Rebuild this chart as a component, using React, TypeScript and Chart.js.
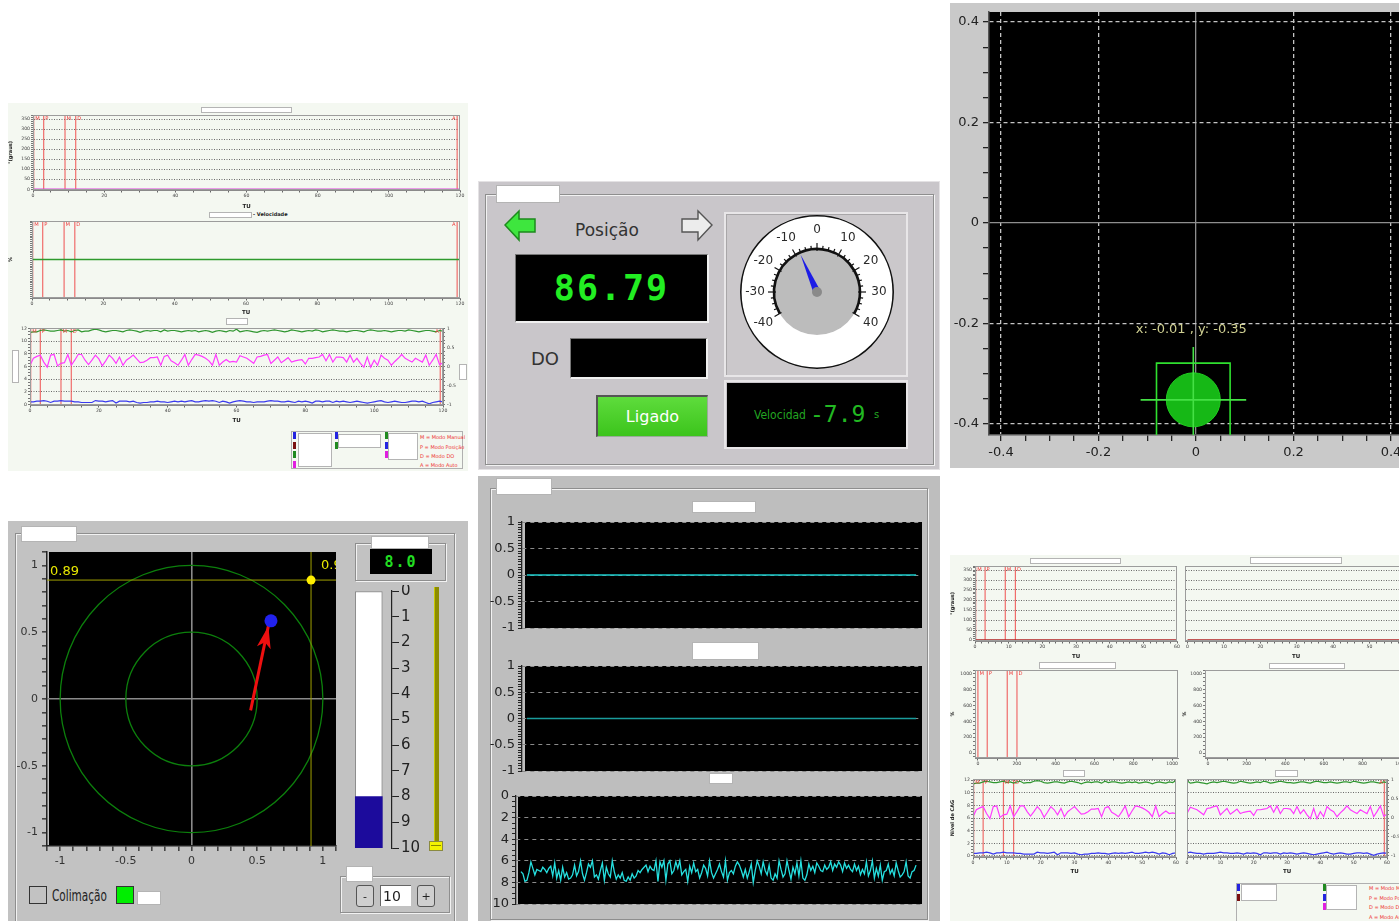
import React, { useEffect, useRef } from 'react';
import { Chart, registerables } from 'chart.js';

Chart.register(...registerables);

const FONT = "'DejaVu Sans', sans-serif";
const MONO = "'DejaVu Sans Mono', monospace";
const NARROW = "'Liberation Sans Narrow', 'DejaVu Sans Condensed', 'DejaVu Sans', sans-serif";
Chart.defaults.font.family = FONT;

// ================= DATA =================
const TU_FULL = [0, 120];
const TU_HALF = [0, 60];
const MODE_TU = [0.2, 3, 9, 12];
const MODE_TXT = ['M', 'P', 'M', 'D'];
const AUTO_TU = 119.2;
const AUTO_TU_HALF = 59.2;
const DO_MODE_X = [0, 48, 151, 201];
const GRAUS = [0, 0];
const VELOC = [0, 0];

const NIVEL_GRN = [
  11.4, 11.5, 11.5, 11.7, 11.8, 11.7, 11.6, 11.6, 11.7, 11.8,
  11.6, 11.7, 11.5, 11.7, 11.8, 11.5, 11.6, 11.6, 11.8, 11.9,
  11.8, 11.6, 11.5, 11.6, 11.7, 11.7, 11.6, 11.5, 11.7, 11.8,
  11.7, 11.6, 11.4, 11.6, 11.7, 11.6, 11.7, 11.7, 11.5, 11.8,
  11.6, 11.7, 11.7, 11.6, 11.5, 11.6, 11.7, 11.6, 11.7, 11.5,
  11.6, 11.7, 11.6, 11.4, 11.6, 11.7, 11.6, 11.5, 11.7, 11.6,
  11.9,
  11.5, 11.6, 11.7, 11.6, 11.5, 11.4, 11.6, 11.7, 11.6, 11.7,
  11.8, 11.7, 11.6, 11.5, 11.6, 11.8, 11.7, 11.6, 11.5, 11.6,
  11.7, 11.6, 11.8, 11.7, 11.5, 11.6, 11.7, 11.8, 11.7, 11.6,
  11.6, 11.5, 11.6, 11.7, 11.7, 11.6, 11.5, 11.7, 11.8, 11.7,
  11.6, 11.6, 11.7, 11.6, 11.5, 11.6, 11.7, 11.7, 11.6, 11.8,
  11.7, 11.6, 11.5, 11.6, 11.7, 11.7, 11.6, 11.5, 11.7, 11.6,
];
const NIVEL_MAG = [
  6.2, 7.3, 7.6, 7.8, 6.7, 5.9, 7.8, 7.9, 6.1, 6.5,
  6.6, 7.9, 6.2, 7.0, 7.9, 7.9, 7.0, 6.3, 7.0, 7.8,
  7.2, 6.1, 6.9, 7.8, 7.3, 6.5, 7.5, 6.2, 7.0, 7.4,
  7.8, 7.2, 6.6, 6.7, 7.0, 7.4, 7.4, 7.5, 6.2, 7.6,
  7.8, 6.9, 6.6, 6.2, 7.0, 7.9, 6.2, 7.1, 7.9, 7.8,
  7.6, 7.3, 6.9, 6.2, 7.9, 6.2, 6.7, 7.1, 6.7, 6.8,
  6.7,
  7.7, 7.5, 7.3, 6.9, 6.5, 7.5, 7.6, 7.8, 7.9, 6.5,
  7.0, 7.5, 6.6, 7.0, 7.4, 6.7, 6.9, 7.0, 7.1, 6.4,
  7.3, 7.3, 7.4, 7.5, 7.9, 6.9, 7.9, 6.7, 7.5, 7.5,
  7.4, 6.7, 7.8, 6.7, 7.3, 6.5, 5.9, 7.5, 5.9, 7.0,
  6.2, 7.8, 7.3, 7.0, 6.2, 6.8, 7.3, 7.9, 7.3, 7.0,
  6.7, 7.3, 7.0, 6.7, 7.8, 6.2, 7.0, 7.9, 6.3, 6.6,
];
const NIVEL_BLU = [
  0.4, 0.4, 0.5, 0.5, 0.6, 0.5, 0.3, 0.5, 0.5, 0.6,
  0.5, 0.5, 0.5, 0.4, 0.4, 0.3, 0.3, 0.3, 0.3, 0.6,
  0.5, 0.5, 0.4, 0.5, 0.6, 0.2, 0.5, 0.5, 0.5, 0.4,
  0.5, 0.3, 0.2, 0.3, 0.3, 0.4, 0.4, 0.5, 0.4, 0.4,
  0.3, 0.4, 0.5, 0.4, 0.5, 0.4, 0.5, 0.6, 0.4, 0.4,
  0.5, 0.6, 0.5, 0.6, 0.5, 0.3, 0.5, 0.4, 0.2, 0.4,
  0.5,
  0.6, 0.5, 0.4, 0.4, 0.3, 0.4, 0.4, 0.4, 0.5, 0.6,
  0.5, 0.5, 0.4, 0.4, 0.5, 0.4, 0.3, 0.5, 0.4, 0.5,
  0.4, 0.2, 0.5, 0.5, 0.4, 0.5, 0.5, 0.3, 0.5, 0.4,
  0.5, 0.4, 0.3, 0.4, 0.5, 0.4, 0.3, 0.2, 0.3, 0.4,
  0.5, 0.6, 0.4, 0.3, 0.4, 0.5, 0.4, 0.3, 0.3, 0.4,
  0.5, 0.5, 0.4, 0.5, 0.3, 0.1, 0.3, 0.4, 0.5, 0.4,
];

const POSICAO = 86.79;
const VELOCIDAD = -7.9;
const GAUGE_TICKS = [-40, -30, -20, -10, 0, 10, 20, 30, 40];

const CURSOR_XY = [-0.0055, -0.352];
const CROSS_H_X = [-0.1136, 0.103];
const CROSS_V_Y = [-0.247, -0.45];
const BOX_X = [-0.081, 0.07];
const BOX_Y = [-0.45, -0.279];

const RINGS = [0.5, 1];
const POLAR_LIM = [-1.1, 1.1];
const TARGET_XY = [0.91, 0.89];
const PROBE_XY = [0.605, 0.585];
const ARROW_FROM = [0.45, -0.085];
const ARROW_TO = [0.585, 0.545];
const TANK_VALUE = 8.0;
const TANK_FILL = [8, 10];
const TANK_RANGE = [0, 10];
const SPIN_VALUE = 10;

const SCOPE_SPAN = [0, 199];
const SCOPE_A = [0, 0];
const SCOPE_B = [0, 0];
const SCOPE_C = [
  7.0, 7.2, 7.9, 7.8, 7.1, 6.1, 6.7, 7.3, 6.8, 6.9, 7.0, 6.6, 6.8, 7.1, 6.7, 6.5, 7.4, 6.2, 7.6, 6.9,
  7.8, 6.6, 7.5, 7.1, 7.7, 7.6, 7.3, 6.4, 7.4, 7.0, 6.0, 7.2, 7.8, 7.1, 6.3, 6.6, 6.0, 7.5, 7.3, 7.7,
  6.9, 6.2, 7.8, 6.6, 7.2, 7.5, 6.0, 7.0, 7.7, 7.3, 7.6, 7.1, 7.8, 7.9, 7.5, 7.8, 7.2, 7.6, 7.4, 6.9,
  7.1, 6.8, 6.6, 6.4, 7.0, 6.5, 6.8, 6.9, 6.0, 7.9, 6.1, 6.6, 6.0, 7.8, 6.3, 6.0, 7.2, 6.9, 6.1, 6.7,
  6.0, 7.3, 7.0, 6.8, 7.9, 6.5, 7.1, 6.2, 7.0, 6.8, 7.6, 7.1, 6.4, 6.7, 7.4, 6.0, 7.1, 7.6, 7.2, 6.8,
  6.3, 7.0, 7.5, 6.0, 7.8, 7.1, 6.9, 7.2, 6.5, 6.1, 6.4, 6.9, 7.5, 6.8, 7.6, 7.0, 6.3, 8.0, 6.9, 6.0,
  6.5, 7.2, 6.1, 6.9, 7.3, 6.4, 7.6, 7.8, 7.2, 7.6, 6.0, 6.8, 7.5, 7.2, 6.0, 6.9, 7.7, 6.6, 7.2, 6.2,
  7.4, 6.0, 7.6, 7.8, 7.3, 6.3, 6.9, 6.5, 7.1, 6.2, 6.5, 6.9, 7.0, 6.4, 6.8, 6.6, 6.1, 6.9, 6.3, 6.6,
  6.1, 6.4, 7.0, 6.2, 6.7, 6.4, 6.8, 7.0, 6.3, 6.9, 6.5, 7.3, 6.8, 7.2, 6.1, 7.4, 6.9, 6.0, 7.6, 6.7,
  7.4, 6.4, 7.8, 7.0, 6.9, 6.3, 7.2, 6.8, 7.4, 6.2, 6.9, 7.5, 7.3, 7.0, 6.1, 7.4, 7.6, 7.0, 6.9, 6.4,
];

const LEGEND_TXT = ['M = Modo Manual', 'P = Modo Posição', 'D = Modo DO', 'A = Modo Auto'];

// ================= helpers =================
const isMult = (v: number, m: number) => Math.abs(v / m - Math.round(v / m)) < 1e-6;
const fmt = (v: number) => String(Math.round(v * 1000) / 1000);
const NOCOL = 'rgba(0,0,0,0)';
const basePlugins = { legend: { display: false }, tooltip: { enabled: false } };
const zeroPad = (s: any) => { s.paddingTop = 0; s.paddingBottom = 0; s.paddingLeft = 0; s.paddingRight = 0; };
const fitW = (w: number) => (s: any) => { s.width = w; zeroPad(s); };
const fitH = (h: number) => (s: any) => { s.height = h; zeroPad(s); };

const bgPlugin = (color: string, inset = 0) => ({
  id: 'plotBg',
  beforeDraw(chart: any) {
    const { ctx, chartArea: a } = chart;
    ctx.save();
    ctx.fillStyle = color;
    ctx.fillRect(a.left + inset, a.top, a.right - a.left - inset, a.bottom - a.top);
    ctx.restore();
  },
});

const framePlugin = (color: string) => ({
  id: 'plotFrame',
  afterDraw(chart: any) {
    const { ctx, chartArea: a } = chart;
    ctx.save();
    ctx.strokeStyle = color;
    ctx.lineWidth = 1;
    ctx.strokeRect(a.left + 0.5, a.top + 0.5, a.right - a.left - 1, a.bottom - a.top - 1);
    ctx.restore();
  },
});

type ModeItem = { x: number; t: string; left?: boolean };
const modeLabelPlugin = (items: ModeItem[], fs: number) => ({
  id: 'modeLabels',
  afterDatasetsDraw(chart: any) {
    const { ctx, chartArea: a, scales } = chart;
    ctx.save();
    ctx.fillStyle = '#ee3a3a';
    ctx.font = `${fs}px ${FONT}`;
    ctx.textBaseline = 'top';
    items.forEach((it) => {
      const px = scales.x.getPixelForValue(it.x);
      ctx.textAlign = it.left ? 'right' : 'left';
      ctx.fillText(it.t, px + (it.left ? -1.5 : 1.5), a.top + 1.5);
    });
    ctx.restore();
  },
});

type Series = { data: number[]; xs?: number[]; color: string; w?: number };
type StripOpts = {
  x: number[];
  y: number[];
  series: Series[];
  modes: ModeItem[];
  yTitle?: string;
  xTitle?: string;
  pad: { left: number; bottom: number; top: number; right: number };
  showY?: boolean;
  hGrid?: boolean;
  right?: { min: number; max: number; step: number; every: number; width: number };
  fs?: number;
};

function stripCfg(o: StripOpts) {
  const fs = o.fs ?? 4.6;
  const [xmin, xmax, xstep, xev] = o.x;
  const [ymin, ymax, ystep, yev] = o.y;
  const showY = o.showY !== false;
  const hGrid = o.hGrid !== false;
  const datasets: any[] = [];
  o.series.forEach((s) =>
    datasets.push({
      type: 'line',
      data: s.data.map((v, i) => ({ x: s.xs ? s.xs[i] : i, y: v })),
      borderColor: s.color,
      borderWidth: s.w ?? 1.2,
      pointRadius: 0,
      yAxisID: 'y',
    })
  );
  o.modes.forEach((m) =>
    datasets.push({
      type: 'line',
      data: [{ x: m.x, y: ymin }, { x: m.x, y: ymax }],
      borderColor: 'rgba(238,84,84,0.85)',
      borderWidth: 1.2,
      pointRadius: 0,
      yAxisID: 'y',
    })
  );
  const tickFont = { family: FONT, size: fs };
  const scales: any = {
    x: {
      type: 'linear',
      min: xmin,
      max: xmax,
      afterFit: fitH(o.pad.bottom),
      ticks: { stepSize: xstep, autoSkip: false, includeBounds: false, maxRotation: 0, font: tickFont, color: '#444', padding: 1,
        callback: (v: any) => (isMult(v, xev) ? fmt(v) : '') },
      grid: { drawOnChartArea: false, tickLength: 2.5, tickColor: '#666' },
      border: { color: '#8a8a8a' },
      title: { display: !!o.xTitle, text: o.xTitle, color: '#222', font: { family: FONT, size: fs + 0.9, weight: 'bold' }, padding: { top: 1, bottom: 0 } },
    },
    y: {
      type: 'linear',
      min: ymin,
      max: ymax,
      afterFit: fitW(o.pad.left),
      ticks: { display: showY, stepSize: ystep, autoSkip: false, includeBounds: false, font: tickFont, color: '#444', padding: 1,
        callback: (v: any) => (isMult(v, yev) ? fmt(v) : '') },
      grid: {
        color: (c: any) => (hGrid && c.tick && isMult(c.tick.value, yev) ? '#6a6a6a' : NOCOL),
        tickColor: '#777', tickLength: 2, drawTicks: showY,
      },
      border: { color: '#8a8a8a', dash: [1, 1.5] },
      title: { display: !!o.yTitle, text: o.yTitle, color: '#222', font: { family: FONT, size: fs + 0.4, weight: 'bold' }, padding: 0 },
    },
  };
  if (o.right) {
    const r = o.right;
    scales.y2 = {
      type: 'linear',
      position: 'right',
      min: r.min,
      max: r.max,
      afterFit: fitW(r.width),
      ticks: { stepSize: r.step, autoSkip: false, includeBounds: false, font: tickFont, color: '#444', padding: 2,
        callback: (v: any) => (isMult(v, r.every) ? fmt(v) : '') },
      grid: { drawOnChartArea: false, tickColor: '#777', tickLength: 2 },
      border: { color: '#8a8a8a' },
    };
  }
  return {
    type: 'line',
    data: { datasets },
    options: {
      responsive: false, animation: false, events: [],
      layout: { autoPadding: false, padding: { top: o.pad.top, right: o.pad.right, left: 0, bottom: 0 } },
      plugins: basePlugins,
      scales,
    },
    plugins: [framePlugin('#9c9c9c'), modeLabelPlugin(o.modes, fs + 0.6)],
  };
}

const modesFull: ModeItem[] = [...MODE_TU.map((x, i) => ({ x, t: MODE_TXT[i] })), { x: AUTO_TU, t: 'A', left: true }];
const modesHalf: ModeItem[] = MODE_TU.map((x, i) => ({ x, t: MODE_TXT[i] }));
const modesDO: ModeItem[] = DO_MODE_X.map((x, i) => ({ x, t: MODE_TXT[i] }));

// ---------- gauge ----------
const gaugePlugin = {
  id: 'gaugeFace',
  afterDatasetsDraw(chart: any) {
    const ctx = chart.ctx;
    const a0 = chart.getDatasetMeta(0).data[0];
    const a1 = chart.getDatasetMeta(1).data[0];
    const cx = a0.x, cy = a0.y, R = a0.outerRadius, r = a1.outerRadius;
    const ang = (v: number) => -Math.PI / 2 + (v * 3 * Math.PI) / 180;
    const lo = GAUGE_TICKS[0];
    const hi = GAUGE_TICKS[GAUGE_TICKS.length - 1];
    ctx.save();
    ctx.strokeStyle = '#111';
    ctx.lineWidth = 1.6;
    ctx.beginPath();
    ctx.arc(cx, cy, R - 0.8, 0, Math.PI * 2);
    ctx.stroke();
    ctx.lineWidth = 2.6;
    ctx.beginPath();
    ctx.arc(cx, cy, r, ang(lo), ang(hi));
    ctx.stroke();
    ctx.lineWidth = 1.2;
    for (let v = lo; v <= hi; v += 2.5) {
      const major = isMult(v, 10);
      const t = ang(v);
      const r1 = r - (major ? 2 : 0);
      const r2 = r + (major ? 6 : 3.5);
      ctx.beginPath();
      ctx.moveTo(cx + Math.cos(t) * r1, cy + Math.sin(t) * r1);
      ctx.lineTo(cx + Math.cos(t) * r2, cy + Math.sin(t) * r2);
      ctx.stroke();
    }
    ctx.fillStyle = '#2a2a2a';
    ctx.font = `12px ${FONT}`;
    ctx.textAlign = 'center';
    ctx.textBaseline = 'middle';
    GAUGE_TICKS.forEach((v) => {
      const t = ang(v);
      const rl = r + 19;
      ctx.fillText(v < 0 ? '-' + Math.abs(v) : String(v), cx + Math.cos(t) * rl, cy + Math.sin(t) * rl);
    });
    const tn = ang(VELOCIDAD);
    const L = r - 2;
    const bw = 3.6;
    ctx.fillStyle = '#1d1de6';
    ctx.beginPath();
    ctx.moveTo(cx + Math.cos(tn) * L, cy + Math.sin(tn) * L);
    ctx.lineTo(cx + Math.cos(tn + Math.PI / 2) * bw, cy + Math.sin(tn + Math.PI / 2) * bw);
    ctx.lineTo(cx + Math.cos(tn - Math.PI / 2) * bw, cy + Math.sin(tn - Math.PI / 2) * bw);
    ctx.closePath();
    ctx.fill();
    ctx.fillStyle = '#8a8a8a';
    ctx.beginPath();
    ctx.arc(cx, cy, 5, 0, Math.PI * 2);
    ctx.fill();
    ctx.restore();
  },
};

function gaugeCfg() {
  return {
    type: 'doughnut',
    data: {
      datasets: [
        { data: [1], backgroundColor: ['#ffffff'], borderWidth: 0, weight: 34 },
        { data: [1], backgroundColor: ['#bcbcbc'], borderWidth: 0, weight: 43 },
      ],
    },
    options: {
      responsive: false, animation: false, events: [],
      radius: 77, cutout: 0,
      layout: { autoPadding: false, padding: { bottom: 5 } },
      plugins: basePlugins,
    },
    plugins: [gaugePlugin],
  };
}

// ---------- XY cursor (top right) ----------
function cursorCfg() {
  const gridColor = (c: any) => {
    if (!c.tick) return NOCOL;
    const v = c.tick.value;
    if (Math.abs(v) < 1e-9) return '#8e8e8e';
    return isMult(v, 0.2) ? '#c4c4c4' : NOCOL;
  };
  const dash = (c: any) => (c.tick && Math.abs(c.tick.value) > 1e-9 ? [4, 3] : []);
  const axis = (min: number, max: number, fit: (s: any) => void) => ({
    type: 'linear', min, max, afterFit: fit,
    ticks: { stepSize: 0.05, autoSkip: false, includeBounds: false, maxRotation: 0, font: { size: 13 }, color: '#222', padding: 4,
      callback: (v: any) => (isMult(v, 0.2) ? fmt(v) : '') },
    grid: { color: gridColor, lineWidth: 1.3, tickColor: '#222', tickLength: 6 },
    border: { color: '#555', width: 1.5, dash },
  });
  const labelPlugin = {
    id: 'cursorLabel',
    afterDatasetsDraw(chart: any) {
      const { ctx, scales } = chart;
      const px = scales.x.getPixelForValue(CURSOR_XY[0]);
      const py = scales.y.getPixelForValue(CURSOR_XY[1]);
      ctx.save();
      ctx.fillStyle = '#cfcf92';
      ctx.font = `13px ${FONT}`;
      ctx.textAlign = 'center';
      ctx.textBaseline = 'middle';
      ctx.fillText(`x: ${CURSOR_XY[0].toFixed(2)} , y: ${CURSOR_XY[1].toFixed(2)}`, px - 2, py - 70);
      ctx.restore();
    },
  };
  return {
    type: 'scatter',
    data: {
      datasets: [
        { type: 'line', data: CROSS_H_X.map((x) => ({ x, y: CURSOR_XY[1] })), borderColor: '#45e045', borderWidth: 1.6, pointRadius: 0 },
        { type: 'line', data: CROSS_V_Y.map((y) => ({ x: CURSOR_XY[0], y })), borderColor: '#45e045', borderWidth: 1.6, pointRadius: 0 },
        {
          type: 'line',
          data: [
            { x: BOX_X[0], y: BOX_Y[0] }, { x: BOX_X[0], y: BOX_Y[1] },
            { x: BOX_X[1], y: BOX_Y[1] }, { x: BOX_X[1], y: BOX_Y[0] },
          ],
          borderColor: '#2fe02f', borderWidth: 1.6, pointRadius: 0,
        },
        { type: 'scatter', data: [{ x: CURSOR_XY[0], y: CURSOR_XY[1] }], pointRadius: 27, backgroundColor: '#16b816', borderColor: '#20cc20', borderWidth: 1 },
      ],
    },
    options: {
      responsive: false, animation: false, events: [],
      layout: { autoPadding: false, padding: { top: 9, right: 10, left: 0, bottom: 0 } },
      plugins: basePlugins,
      scales: {
        x: axis(-0.4246, 0.439, fitH(33)),
        y: axis(-0.422, 0.42, fitW(39)),
      },
    },
    plugins: [bgPlugin('#000'), labelPlugin],
  };
}

// ---------- polar target (bottom left) ----------
function polarCfg() {
  const gridColor = (c: any) => (c.tick && Math.abs(c.tick.value) < 1e-9 ? '#8a8a8a' : NOCOL);
  const axis = (fit: (s: any) => void) => ({
    type: 'linear', min: POLAR_LIM[0], max: POLAR_LIM[1], afterFit: fit,
    ticks: { stepSize: 0.1, autoSkip: false, includeBounds: false, maxRotation: 0, font: { size: 11 }, color: '#333', padding: 4,
      callback: (v: any) => (isMult(v, 0.5) ? fmt(v) : '') },
    grid: { color: gridColor, lineWidth: 1.6, tickColor: '#444', tickLength: 5 },
    border: { color: '#222', width: 1.5 },
  });
  const deco = {
    id: 'polarDeco',
    beforeDatasetsDraw(chart: any) {
      const { ctx, chartArea: a, scales: { x, y } } = chart;
      const cx = x.getPixelForValue(0), cy = y.getPixelForValue(0);
      ctx.save();
      ctx.beginPath();
      ctx.rect(a.left, a.top, a.right - a.left, a.bottom - a.top);
      ctx.clip();
      ctx.strokeStyle = '#0c800c';
      ctx.lineWidth = 1.3;
      RINGS.forEach((r) => {
        const rx = Math.abs(x.getPixelForValue(r) - cx);
        const ry = Math.abs(y.getPixelForValue(r) - cy);
        ctx.beginPath();
        ctx.ellipse(cx, cy, rx, ry, 0, 0, Math.PI * 2);
        ctx.stroke();
      });
      ctx.restore();
    },
    afterDatasetsDraw(chart: any) {
      const { ctx, chartArea: a, scales: { x, y } } = chart;
      ctx.save();
      ctx.beginPath();
      ctx.rect(a.left, a.top, a.right - a.left, a.bottom - a.top);
      ctx.clip();
      ctx.fillStyle = '#e8e800';
      ctx.font = `13px ${FONT}`;
      ctx.textBaseline = 'bottom';
      ctx.textAlign = 'left';
      ctx.fillText(TARGET_XY[1].toFixed(2), a.left + 3, y.getPixelForValue(TARGET_XY[1]) - 2);
      ctx.textBaseline = 'top';
      ctx.fillText(TARGET_XY[0].toFixed(2), x.getPixelForValue(TARGET_XY[0]) + 10, a.top + 7);
      const x1 = x.getPixelForValue(ARROW_FROM[0]), y1 = y.getPixelForValue(ARROW_FROM[1]);
      const x2 = x.getPixelForValue(ARROW_TO[0]), y2 = y.getPixelForValue(ARROW_TO[1]);
      const t = Math.atan2(y2 - y1, x2 - x1);
      const L = 22, W = 7;
      ctx.fillStyle = '#ee1010';
      ctx.beginPath();
      ctx.moveTo(x2, y2);
      ctx.lineTo(x2 - Math.cos(t) * L + Math.cos(t + Math.PI / 2) * W, y2 - Math.sin(t) * L + Math.sin(t + Math.PI / 2) * W);
      ctx.lineTo(x2 - Math.cos(t) * L * 0.75, y2 - Math.sin(t) * L * 0.75);
      ctx.lineTo(x2 - Math.cos(t) * L - Math.cos(t + Math.PI / 2) * W, y2 - Math.sin(t) * L - Math.sin(t + Math.PI / 2) * W);
      ctx.closePath();
      ctx.fill();
      ctx.restore();
    },
  };
  return {
    type: 'scatter',
    data: {
      datasets: [
        { type: 'scatter', data: [{ x: PROBE_XY[0], y: PROBE_XY[1] }], pointRadius: 6.5, backgroundColor: '#2222ee', borderWidth: 0 },
        { type: 'scatter', data: [{ x: TARGET_XY[0], y: TARGET_XY[1] }], pointRadius: 4.5, backgroundColor: '#ffee00', borderWidth: 0 },
        { type: 'line', data: [{ x: ARROW_FROM[0], y: ARROW_FROM[1] }, { x: ARROW_TO[0], y: ARROW_TO[1] }], borderColor: '#ee1010', borderWidth: 3, pointRadius: 0 },
        { type: 'line', data: POLAR_LIM.map((x) => ({ x, y: TARGET_XY[1] })), borderColor: '#a0a000', borderWidth: 1, pointRadius: 0 },
        { type: 'line', data: POLAR_LIM.map((y) => ({ x: TARGET_XY[0], y })), borderColor: '#a0a000', borderWidth: 1, pointRadius: 0 },
      ],
    },
    options: {
      responsive: false, animation: false, events: [],
      layout: { autoPadding: false, padding: { top: 6, right: 9, left: 0, bottom: 0 } },
      plugins: basePlugins,
      scales: {
        x: axis(fitH(30)),
        y: axis(fitW(32)),
      },
    },
    plugins: [bgPlugin('#000', 2), deco],
  };
}

// ---------- tank ----------
function tankCfg() {
  return {
    type: 'bar',
    data: {
      datasets: [
        { data: [{ x: 0.34, y: TANK_FILL }], backgroundColor: '#1c0b9c', borderWidth: 0, barThickness: 27, grouped: false },
        { data: [{ x: 0.34, y: TANK_RANGE }], backgroundColor: '#ffffff', borderColor: '#8a8a8a', borderWidth: 1, borderSkipped: false, barThickness: 27, grouped: false },
      ],
    },
    options: {
      responsive: false, animation: false, events: [],
      layout: { autoPadding: false, padding: { left: 4, top: 6, bottom: 7, right: 0 } },
      plugins: basePlugins,
      scales: {
        x: { type: 'linear', min: 0, max: 1, display: false },
        y: {
          position: 'right', reverse: true, min: 0, max: 10,
          afterFit: fitW(32),
          ticks: { stepSize: 1, font: { size: 15 }, color: '#222', padding: 2 },
          grid: { drawOnChartArea: false, tickLength: 7, tickColor: '#222' },
          border: { color: '#222', width: 1.2 },
        },
      },
    },
  };
}

// ---------- scope strips (bottom middle) ----------
function scopeCfg(series: number[], xs: number[] | null, color: string, y: number[], reverse: boolean, leftW: number, inset: number, padTop: number, padBottom: number) {
  const [min, max, step, every] = y;
  return {
    type: 'line',
    data: { datasets: [{ data: series.map((v, i) => ({ x: xs ? xs[i] : i, y: v })), borderColor: color, borderWidth: 1.3, pointRadius: 0 }] },
    options: {
      responsive: false, animation: false, events: [],
      layout: { autoPadding: false, padding: { top: padTop, bottom: padBottom, right: 6, left: 0 } },
      plugins: basePlugins,
      scales: {
        x: { type: 'linear', min: -2.5, max: 202, display: false },
        y: {
          type: 'linear', min, max, reverse,
          afterFit: fitW(leftW),
          ticks: { stepSize: step, autoSkip: false, includeBounds: false, font: { size: 13 }, color: '#222', padding: 3,
            callback: (v: any) => (isMult(v, every) ? fmt(v) : '') },
          grid: { color: (c: any) => (c.tick && isMult(c.tick.value, every) ? '#8a8a8a' : NOCOL), tickColor: '#222', tickLength: 4 },
          border: { color: '#222', width: 1.3, dash: [4, 4] },
        },
      },
    },
    plugins: [bgPlugin('#000', inset)],
  };
}

// ================= components =================
function ChartBox({ x, y, w, h, cfg }: { x: number; y: number; w: number; h: number; cfg: () => any }) {
  const ref = useRef<HTMLCanvasElement | null>(null);
  useEffect(() => {
    const chart = new Chart(ref.current as HTMLCanvasElement, cfg());
    return () => chart.destroy();
  }, []);
  return (
    <canvas
      ref={ref}
      width={w}
      height={h}
      style={{ position: 'absolute', left: x, top: y, width: w, height: h, display: 'block' }}
    />
  );
}

const S = (l: number, t: number, w: number, h: number, extra: React.CSSProperties = {}): React.CSSProperties => ({
  position: 'absolute', left: l, top: t, width: w, height: h, boxSizing: 'border-box', ...extra,
});
const WB = ({ l, t, w, h }: { l: number; t: number; w: number; h: number }) => (
  <div style={S(l, t, w, h, { background: '#fff', border: '1px solid #b4b4b4' })} />
);
const Groove = ({ l, t, w, h }: { l: number; t: number; w: number; h: number }) => (
  <div style={S(l, t, w, h, { border: '1px solid #8e8e8e', boxShadow: 'inset 1px 1px 0 #f2f2f2, 1px 1px 0 #f2f2f2' })} />
);
const T = ({ l, t, s, children }: { l: number; t: number; s?: React.CSSProperties; children: any }) => (
  <div style={{ position: 'absolute', left: l, top: t, whiteSpace: 'nowrap', lineHeight: 1, ...s }}>{children}</div>
);
const Sw = ({ l, t, c }: { l: number; t: number; c: string }) => <div style={S(l, t, 3, 7, { background: c })} />;

function Legend({ l, t, w, h, cols, textX, textY, boxes }: any) {
  return (
    <>
      <div style={S(l, t, w, h, { border: '1px solid #b0b0b0' })} />
      {cols.map((c: any, i: number) => c.colors.map((col: string, j: number) => <Sw key={i + '-' + j} l={c.x} t={c.y + j * c.dy} c={col} />))}
      {boxes.map((b: number[], i: number) => <WB key={'b' + i} l={b[0]} t={b[1]} w={b[2]} h={b[3]} />)}
      {LEGEND_TXT.map((s, i) => (
        <T key={'t' + i} l={textX} t={textY[i] - 2.5} s={{ fontSize: 5, color: '#ee3030' }}>{s}</T>
      ))}
    </>
  );
}

export default function App() {
  const panelLight = '#f4f8f1';
  return (
    <div style={{ position: 'absolute', left: 0, top: 0, width: 1399, height: 921, overflow: 'hidden', background: '#fff', fontFamily: FONT }}>
      {/* ===== Panel 1: top-left strip charts ===== */}
      <div style={S(8, 103, 460, 368, { background: panelLight })} />
      <WB l={201} t={107} w={91} h={6} />
      <ChartBox x={8} y={112} w={460} h={98} cfg={() => stripCfg({
        x: [0, 120, 5, 20], y: [-3.5, 371, 10, 50],
        series: [{ data: GRAUS, xs: TU_FULL, color: '#e040e0', w: 1.4 }],
        modes: modesFull, yTitle: '°(graus)', xTitle: 'TU',
        pad: { left: 25, bottom: 20, top: 3, right: 8 },
      })} />
      <WB l={209} t={212} w={43} h={6} />
      <T l={253} t={212} s={{ fontSize: 5, fontWeight: 'bold', color: '#222' }}>- Velocidade</T>
      <ChartBox x={8} y={218} w={460} h={98} cfg={() => stripCfg({
        x: [0, 120, 5, 20], y: [-41, 41, 2, 10],
        series: [{ data: VELOC, xs: TU_FULL, color: '#2e9a2e', w: 1.4 }],
        modes: modesFull, yTitle: '%', xTitle: 'TU',
        pad: { left: 24, bottom: 18, top: 3, right: 8 },
      })} />
      <WB l={226} t={318} w={22} h={7} />
      <ChartBox x={8} y={326} w={460} h={98} cfg={() => stripCfg({
        x: [0, 120, 5, 20], y: [-0.1, 12.1, 0.5, 2],
        series: [
          { data: NIVEL_GRN, color: '#2f962f' },
          { data: NIVEL_MAG, color: '#ff3cff' },
          { data: NIVEL_BLU, color: '#3a3aee' },
        ],
        modes: modesFull, xTitle: 'TU',
        pad: { left: 22, bottom: 19, top: 2, right: 0 },
        right: { min: -1.017, max: 1.017, step: 0.1, every: 0.5, width: 25 },
      })} />
      <WB l={12} t={350} w={7} h={33} />
      <WB l={459} t={364} w={8} h={16} />
      <Legend l={291} t={431} w={172} h={38}
        cols={[
          { x: 293, y: 432, dy: 9.5, colors: ['#2424e0', '#7a1010', '#208a20', '#e020e0'] },
          { x: 335, y: 432, dy: 9.5, colors: ['#2424e0', '#208a20'] },
          { x: 385, y: 432, dy: 9.5, colors: ['#208a20', '#2424e0', '#e020e0'] },
        ]}
        boxes={[[298, 433, 34, 34], [338, 434, 43, 14], [388, 433, 30, 27]]}
        textX={420} textY={[437, 447, 456, 465]} />

      {/* ===== Panel 2: widget ===== */}
      <div style={S(478, 181, 462, 289, { background: '#c9c6ca', border: '1px solid #e4e2e4' })} />
      <Groove l={485} t={194} w={449} h={271} />
      <WB l={496} t={185} w={64} h={18} />
      <svg style={{ position: 'absolute', left: 504, top: 209 }} width={33} height={33}>
        <polygon points="1,16 15,2 15,10 31,10 31,23 15,23 15,31" fill="#3ee63e" stroke="#1d8a1d" strokeWidth={1.5} />
      </svg>
      <T l={575} t={222} s={{ fontSize: 17, color: '#333' }}>Posição</T>
      <svg style={{ position: 'absolute', left: 680, top: 209 }} width={33} height={33}>
        <polygon points="32,16 18,2 18,10 2,10 2,23 18,23 18,31" fill="#ececec" stroke="#555" strokeWidth={1.4} />
      </svg>
      <div style={S(515, 254, 194, 69, { background: '#000', borderTop: '1px solid #777', borderLeft: '1px solid #777', borderRight: '2px solid #f0f0f0', borderBottom: '2px solid #f0f0f0', display: 'flex', alignItems: 'center', justifyContent: 'center' })}>
        <span style={{ fontFamily: MONO, fontWeight: 'bold', fontSize: 35, color: '#22ee22', letterSpacing: 2 }}>{POSICAO.toFixed(2)}</span>
      </div>
      <T l={531} t={350} s={{ fontSize: 18, color: '#333' }}>DO</T>
      <div style={S(570, 338, 138, 41, { background: '#000', borderTop: '1px solid #777', borderLeft: '1px solid #777', borderRight: '2px solid #f0f0f0', borderBottom: '2px solid #f0f0f0' })} />
      <div style={S(596, 395, 112, 42, { background: 'linear-gradient(#5edc3c, #3cc41c)', borderTop: '2px solid #555', borderLeft: '2px solid #555', borderRight: '1px solid #9a9', borderBottom: '1px solid #9a9', display: 'flex', alignItems: 'center', justifyContent: 'center', color: '#fff', fontSize: 16 })}>Ligado</div>
      <div style={S(724, 212, 184, 165, { background: '#cbc8cb', border: '2px solid #e8e6e8', boxShadow: 'inset 1px 1px 0 #a8a6a8' })} />
      <ChartBox x={726} y={214} w={182} h={161} cfg={gaugeCfg} />
      <div style={S(724, 380, 184, 69, { border: '2px solid #e8e6e8' })} />
      <div style={S(727, 383, 179, 64, { background: '#000' })} />
      <T l={754} t={409} s={{ fontFamily: NARROW, fontSize: 12, color: '#22a622' }}>Velocidad</T>
      <T l={810} t={403} s={{ fontFamily: MONO, fontSize: 23, color: '#22b822' }}>{VELOCIDAD.toFixed(1)}</T>
      <T l={874} t={410} s={{ fontSize: 10, color: '#22a622' }}>s</T>

      {/* ===== Panel 3: XY cursor ===== */}
      <div style={S(950, 3, 449, 465, { background: '#c9c9c9' })} />
      <ChartBox x={950} y={3} w={470} h={465} cfg={cursorCfg} />

      {/* ===== Panel 4: polar target ===== */}
      <div style={S(8, 521, 460, 400, { background: '#c2c2c2' })} />
      <Groove l={15} t={533} w={440} h={400} />
      <WB l={21} t={526} w={56} h={16} />
      <ChartBox x={15} y={546} w={330} h={330} cfg={polarCfg} />
      <Groove l={355} t={543} w={91} h={38} />
      <WB l={371} t={536} w={58} h={13} />
      <div style={S(370, 549, 62, 25, { background: '#000', display: 'flex', alignItems: 'center', justifyContent: 'center' })}>
        <span style={{ fontFamily: MONO, fontWeight: 'bold', fontSize: 15, color: '#22dd22', letterSpacing: 2 }}>{TANK_VALUE.toFixed(1)}</span>
      </div>
      <ChartBox x={348} y={585} w={76} h={270} cfg={tankCfg} />
      <div style={S(434, 587, 5, 258, { background: '#8c8c00', borderLeft: '1px solid #c8c800' })} />
      <div style={S(429, 841, 14, 10, { background: '#f2f200', border: '1px solid #8a8a40' })} />
      <div style={S(431, 845, 10, 1, { background: '#888800' })} />
      <div style={S(29, 886, 18, 18, { border: '1px solid #333' })} />
      <T l={52} t={889} s={{ fontSize: 15, color: '#222', transform: 'scaleX(0.7)', transformOrigin: '0 50%' }}>Colimação</T>
      <div style={S(116, 886, 18, 18, { background: '#00ee00', border: '1px solid #333' })} />
      <WB l={137} t={891} w={24} h={14} />
      <Groove l={340} t={876} w={110} h={37} />
      <WB l={346} t={866} w={27} h={16} />
      <div style={S(356, 885, 18, 22, { background: '#cfcfcf', border: '1px solid #555', borderRadius: 3, display: 'flex', alignItems: 'center', justifyContent: 'center', fontSize: 11, color: '#222' })}>-</div>
      <div style={S(380, 885, 31, 21, { background: '#fff', borderTop: '1px solid #666', borderLeft: '1px solid #666', fontSize: 14, color: '#222', paddingLeft: 2, paddingTop: 2 })}>{SPIN_VALUE}</div>
      <div style={S(417, 885, 18, 22, { background: '#cfcfcf', border: '1px solid #555', borderRadius: 3, display: 'flex', alignItems: 'center', justifyContent: 'center', fontSize: 11, color: '#222' })}>+</div>

      {/* ===== Panel 5: scope strips ===== */}
      <div style={S(478, 476, 462, 445, { background: '#bebebe' })} />
      <Groove l={490} t={488} w={438} h={432} />
      <WB l={496} t={478} w={56} h={17} />
      <WB l={692} t={501} w={64} h={12} />
      <ChartBox x={490} y={515} w={438} h={120} cfg={() => scopeCfg(SCOPE_A, SCOPE_SPAN, '#1ccccc', [-1, 1, 0.05, 0.5], false, 32, 3, 7, 7)} />
      <WB l={692} t={642} w={67} h={18} />
      <ChartBox x={490} y={659} w={438} h={118} cfg={() => scopeCfg(SCOPE_B, SCOPE_SPAN, '#1a9c9c', [-1, 1, 0.05, 0.5], false, 32, 3, 7, 6)} />
      <WB l={709} t={773} w={24} h={11} />
      <ChartBox x={490} y={789} w={438} h={122} cfg={() => scopeCfg(SCOPE_C, null, '#26e0e0', [0, 10, 0.5, 2], true, 26, 2, 7, 7)} />

      {/* ===== Panel 6: bottom-right strip charts ===== */}
      <div style={S(950, 555, 449, 366, { background: panelLight })} />
      <WB l={1030} t={558} w={91} h={6} />
      <ChartBox x={950} y={563} w={232} h={97} cfg={() => stripCfg({
        x: [0, 60, 2, 10], y: [-5, 370, 10, 50],
        series: [{ data: GRAUS, xs: TU_HALF, color: '#b02222', w: 1.4 }],
        modes: modesHalf, yTitle: '°(graus)', xTitle: 'TU',
        pad: { left: 25, bottom: 19, top: 3, right: 5 },
      })} />
      <WB l={1250} t={557} w={92} h={7} />
      <ChartBox x={1182} y={563} w={240} h={97} cfg={() => stripCfg({
        x: [-0.7, 60.3, 2, 10], y: [-5, 370, 10, 50],
        series: [{ data: GRAUS, xs: TU_HALF, color: '#b02222', w: 1.4 }],
        modes: [], xTitle: 'TU', showY: false,
        pad: { left: 3, bottom: 19, top: 3, right: 15 },
      })} />
      <WB l={1039} t={662} w={77} h={7} />
      <ChartBox x={950} y={667} w={232} h={103} cfg={() => stripCfg({
        x: [-15, 1030, 100, 200], y: [-63, 1050, 50, 200],
        series: [], hGrid: false,
        modes: modesDO, yTitle: '%',
        pad: { left: 25, bottom: 12, top: 3, right: 4 },
      })} />
      <WB l={1269} t={663} w={76} h={6} />
      <ChartBox x={1182} y={667} w={240} h={103} cfg={() => stripCfg({
        x: [-15.5, 1025, 100, 200], y: [-63, 1050, 50, 200],
        series: [], hGrid: false,
        modes: [], yTitle: '%',
        pad: { left: 23, bottom: 12, top: 3, right: 16 },
      })} />
      <WB l={1063} t={770} w={22} h={7} />
      <ChartBox x={950} y={776} w={232} h={99} cfg={() => stripCfg({
        x: [0, 60, 2, 10], y: [-0.16, 12.16, 0.5, 2],
        series: [
          { data: NIVEL_GRN.slice(0, 61), color: '#2f962f' },
          { data: NIVEL_MAG.slice(0, 61), color: '#ff3cff' },
          { data: NIVEL_BLU.slice(0, 61), color: '#3a3aee' },
        ],
        modes: modesHalf, yTitle: 'Nível de CAG', xTitle: 'TU',
        pad: { left: 23, bottom: 18, top: 3, right: 6 },
      })} />
      <WB l={1275} t={770} w={23} h={7} />
      <ChartBox x={1182} y={776} w={240} h={99} cfg={() => stripCfg({
        x: [0, 60, 2, 10], y: [-0.16, 12.16, 0.5, 2],
        series: [
          { data: NIVEL_GRN.slice(60), color: '#2f962f' },
          { data: NIVEL_MAG.slice(60), color: '#ff3cff' },
          { data: NIVEL_BLU.slice(60), color: '#3a3aee' },
        ],
        modes: [{ x: AUTO_TU_HALF, t: 'A', left: true }], xTitle: 'TU', showY: false,
        pad: { left: 5, bottom: 18, top: 3, right: 15 },
        right: { min: -1.0267, max: 1.0267, step: 0.1, every: 0.5, width: 20 },
      })} />
      <Legend l={1236} t={883} w={180} h={40}
        cols={[
          { x: 1237, y: 884, dy: 10, colors: ['#2424e0', '#7a1010'] },
          { x: 1323, y: 884, dy: 9.5, colors: ['#208a20', '#2424e0', '#e020e0'] },
        ]}
        boxes={[[1241, 884, 36, 17], [1326, 885, 31, 25]]}
        textX={1369} textY={[888, 898, 907, 917]} />
    </div>
  );
}
